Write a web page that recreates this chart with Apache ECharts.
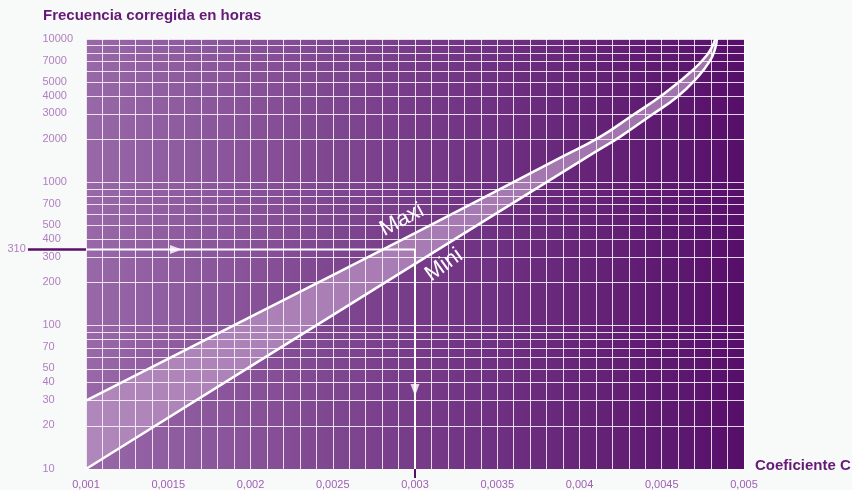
<!DOCTYPE html>
<html><head><meta charset="utf-8">
<script src="https://cdn.jsdelivr.net/npm/echarts@6/dist/echarts.min.js"></script>
<style>html,body{margin:0;padding:0;background:#f8f9f9}#c{width:852px;height:490px}</style>
</head><body><div id="c"></div>
<script>
// ---- data ----
const yTickLabels = [10, 20, 30, 40, 50, 70, 100, 200, 300, 400, 500, 700, 1000, 2000, 3000, 4000, 5000, 7000, 10000];
const yGridValues = [20, 30, 40, 50, 60, 70, 80, 90, 100, 200, 300, 400, 500, 600, 700, 800, 900, 1000, 2000, 3000, 4000, 5000, 6000, 7000, 8000, 9000, 10000];
const maxiX = [0.001, 0.002, 0.003, 0.003881, 0.004125, 0.004307, 0.00452, 0.00469, 0.004775, 0.004812, 0.004824];
const maxiY = [30, 115, 443, 1479, 2075, 2858, 4207, 6081, 7745, 9100, 10000];
const miniX = [0.001, 0.002, 0.003, 0.004106, 0.004246, 0.004429, 0.004593, 0.004714, 0.004793, 0.004824, 0.004836];
const miniY = [10, 52, 270, 1656, 2075, 2904, 3944, 5358, 7031, 8531, 10000];
const curveNames = ['Maxi', 'Mini'];
const curveNameAnchors = [[0.002921, 547], [0.003176, 265]];
const curveNameAngles = [28, 36];
const readingLabel = '310';
const readingLevel = 340;   // where the reference draws the 310 guide line
const readingX = 0.003;

const maxi = maxiX.map((x, i) => [x, maxiY[i]]);
const mini = miniX.map((x, i) => [x, miniY[i]]);

const bgGrad = {type: 'linear', x: 86, y: 0, x2: 744, y2: 0, global: true,
  colorStops: [{offset: 0, color: '#9868a8'}, {offset: 1, color: '#560f69'}]};
const FONT = 'Liberation Sans';
const labelColor = '#9d60b1';
const darkColor = '#651a77';
const gridLine = 'rgba(255,255,255,0.82)';
const SMOOTH = 0.5;

const chart = echarts.init(document.getElementById('c'), null, {renderer: 'canvas'});
chart.setOption({
  animation: false,
  backgroundColor: '#f8f9f9',
  textStyle: {fontFamily: FONT},
  title: [
    {text: 'Frecuencia corregida en horas', left: 43, top: 8, padding: 0,
     textStyle: {fontFamily: FONT, fontSize: 15, fontWeight: 'bold', color: darkColor}},
    {text: 'Coeficiente C', left: 755, top: 458, padding: 0,
     textStyle: {fontFamily: FONT, fontSize: 15, fontWeight: 'bold', color: darkColor}}
  ],
  grid: {left: 86, right: 108, top: 39, bottom: 21, show: true, borderWidth: 0, backgroundColor: bgGrad},
  xAxis: {
    type: 'value', min: 0.001, max: 0.005, interval: 0.0005, z: 3,
    axisLine: {show: false}, axisTick: {show: false},
    axisLabel: {color: labelColor, fontSize: 11, margin: 10, fontFamily: FONT,
      formatter: v => String(+v.toFixed(4)).replace('.', ',')},
    splitLine: {show: true, lineStyle: {color: gridLine, width: 1}},
    minorTick: {show: false, splitNumber: 5},
    minorSplitLine: {show: true, lineStyle: {color: gridLine, width: 1}}
  },
  yAxis: {
    type: 'log', min: 10, max: 10000, logBase: 10,
    axisLine: {show: false}, axisTick: {show: false}, axisLabel: {show: false},
    splitLine: {show: false}
  },
  series: [
    {type: 'line', name: 'bandTop', data: maxi, smooth: SMOOTH, symbol: 'none', z: 1, silent: true,
     lineStyle: {width: 0}, areaStyle: {origin: 'start', color: 'rgba(184,146,194,0.75)', opacity: 1},
     markLine: {silent: true, symbol: ['none', 'none'], label: {show: false}, z: 2,
       lineStyle: {color: gridLine, width: 1, type: 'solid'},
       data: yGridValues.map(v => ({yAxis: v}))}},
    {type: 'line', name: 'bandBottom', data: mini, smooth: SMOOTH, symbol: 'none', z: 1, silent: true,
     lineStyle: {width: 0}, areaStyle: {origin: 'start', color: bgGrad, opacity: 1}},
    {type: 'line', name: 'Maxi', data: maxi, smooth: SMOOTH, symbol: 'none', z: 6,
     lineStyle: {color: '#ffffff', width: 2.5}},
    {type: 'line', name: 'Mini', data: mini, smooth: SMOOTH, symbol: 'none', z: 6,
     lineStyle: {color: '#ffffff', width: 2.5}},
    {type: 'line', name: 'reading', symbol: 'none', z: 7,
     data: [[0.001, readingLevel], [readingX, readingLevel], [readingX, 10]],
     lineStyle: {color: '#ffffff', width: 2}},
    {type: 'scatter', name: 'arrowRight', symbol: 'triangle', symbolSize: [9, 12], symbolRotate: -90, z: 8,
     itemStyle: {color: '#ffffff'}, data: [[0.001547, readingLevel]]},
    {type: 'scatter', name: 'arrowDown', symbol: 'triangle', symbolSize: [9, 12], symbolRotate: 180, z: 8,
     itemStyle: {color: '#ffffff'}, data: [[readingX, 35.6]]},
    {type: 'scatter', name: 'yLabels', symbolSize: 1, clip: false, z: 8, silent: true,
     itemStyle: {color: 'rgba(0,0,0,0)'},
     data: yTickLabels.map(v => [0.001, v]),
     label: {show: true, position: [-43, 0], align: 'left', verticalAlign: 'middle',
       color: labelColor, fontSize: 11, fontFamily: FONT, formatter: p => String(p.value[1])}},
    {type: 'scatter', name: 'readingLabel', symbolSize: 1, clip: false, z: 8, silent: true,
     itemStyle: {color: 'rgba(0,0,0,0)'},
     data: [[0.001, readingLevel]],
     label: {show: true, position: [-78, 0], align: 'left', verticalAlign: 'middle',
       color: labelColor, fontSize: 11, fontFamily: FONT, formatter: () => readingLabel}}
  ]
});

// dark stubs of the reading guide outside the plot, and curve names, placed through the axes
const px = v => chart.convertToPixel({gridIndex: 0}, v);
const pLeftIn = px([0.001, readingLevel]);
const pLeftOut = px([0.000647, readingLevel]);
const pBotIn = px([readingX, 10]);
const pBotOut = px([readingX, 8.65]);
const nameTexts = curveNames.map((t, i) => {
  const p = px(curveNameAnchors[i]);
  return {type: 'text', z: 30, x: p[0], y: p[1], rotation: curveNameAngles[i] * Math.PI / 180,
    style: {text: t, fill: '#ffffff', font: '22px "Liberation Sans"', align: 'center', verticalAlign: 'middle'}};
});
chart.setOption({
  graphic: [
    {type: 'line', z: 20, shape: {x1: pLeftOut[0], y1: pLeftOut[1], x2: pLeftIn[0], y2: pLeftIn[1]},
     style: {stroke: '#5a0f6a', lineWidth: 2.5}},
    {type: 'line', z: 20, shape: {x1: pBotIn[0], y1: pBotIn[1], x2: pBotOut[0], y2: pBotOut[1]},
     style: {stroke: '#5a0f6a', lineWidth: 2}}
  ].concat(nameTexts)
});
</script></body></html>
